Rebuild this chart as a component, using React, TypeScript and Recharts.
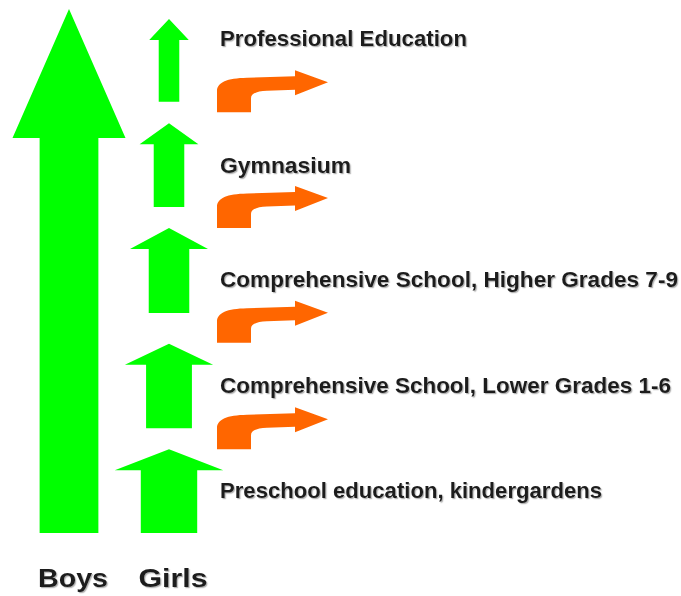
import React from 'react';
import { ComposedChart, Bar, Scatter, XAxis, YAxis } from 'recharts';

// ---- data ----
const groups = ['Boys', 'Girls'];
const stageLabels = [
  'Preschool education, kindergardens',
  'Comprehensive School, Lower Grades 1-6',
  'Comprehensive School, Higher Grades 7-9',
  'Gymnasium',
  'Professional Education',
];
// vertical extent of each girls' stage arrow (progress scale 0-100)
const stageStart = [0, 20.0, 42.0, 62.2, 82.3];
const stageEnd = [16.0, 36.1, 58.2, 78.2, 98.1];
// relative width (share, %) of each girls' arrow vs. the boys' arrow
const girlsShare = [96, 78, 69, 52, 35];
const boysShare = 100;
const boysRange = [0, 100];
// level at which girls drop out (orange arrows)
const dropoutLevel = [16.0, 36.3, 58.2, 80.3];

// ---- derived tables ----
const boysRow: Record<string, any> = { group: groups[0], boys: boysRange[1] - boysRange[0] };
const girlsRow: Record<string, any> = { group: groups[1] };
stageStart.forEach((s, i) => {
  girlsRow[`s${i}`] = stageEnd[i] - s;
  if (i < stageStart.length - 1) girlsRow[`gap${i}`] = stageStart[i + 1] - stageEnd[i];
});
const chartData = [boysRow, girlsRow];
const dropoutData = dropoutLevel.map((v) => ({ group: groups[1], level: v }));

// ---- styles ----
const GREEN = '#00FF00';
const ORANGE = '#FF6600';
const TEXT = '#1c1c1c';
const FONT = '"Liberation Sans", Arial, Helvetica, sans-serif';
const HEAD_SCALE = 1.13;
const SHAFT_RATIO = 0.52;
const BOYS_HEAD_LEN = 129;
const GIRLS_HEAD_LEN = 21;
const LABEL_DY = [7, 7, 16.5, 8, -14.5];
const LABEL_LEN = [382, 451, 458, 131, 247];
const TICK_LEN: Record<string, number> = { Boys: 70, Girls: 69 };

function arrowPath(cx: number, top: number, bottom: number, head: number, shaft: number, headLen: number) {
  const hy = top + headLen;
  return [
    `M${cx - shaft / 2},${bottom}`,
    `L${cx - shaft / 2},${hy}`,
    `L${cx - head / 2},${hy}`,
    `L${cx},${top}`,
    `L${cx + head / 2},${hy}`,
    `L${cx + shaft / 2},${hy}`,
    `L${cx + shaft / 2},${bottom}`,
    'Z',
  ].join(' ');
}

const BoysArrow = (props: any) => {
  const { x, y, width, height } = props;
  if (!height || height <= 0) return null;
  const cx = x + width / 2;
  const head = (boysShare / 100) * width * HEAD_SCALE;
  return <path d={arrowPath(cx, y, y + height, head, head * SHAFT_RATIO, BOYS_HEAD_LEN)} fill={GREEN} />;
};

const makeGirlArrow = (i: number) => (props: any) => {
  const { x, y, width, height } = props;
  if (!height || height <= 0) return null;
  const cx = x + width / 2;
  const head = (girlsShare[i] / 100) * width * HEAD_SCALE;
  return (
    <g>
      <path d={arrowPath(cx, y, y + height, head, head * SHAFT_RATIO, GIRLS_HEAD_LEN)} fill={GREEN} />
      <text
        x={x + width + 1}
        y={y + height / 2 + LABEL_DY[i]}
        fill={TEXT}
        fontFamily={FONT}
        fontWeight="bold"
        fontSize={22}
        textLength={LABEL_LEN[i]}
        lengthAdjust="spacingAndGlyphs"
        filter="url(#txtShadow)"
      >
        {stageLabels[i]}
      </text>
    </g>
  );
};

const Empty = () => null;

const DropoutArrow = (props: any) => {
  const { cx, cy } = props;
  if (cx == null || cy == null) return null;
  const ox = cx + 48;
  const oy = cy;
  const p = (u: number, v: number) => `${ox + u},${oy + v}`;
  const d = [
    `M${p(0, 0)}`,
    `L${p(0, -21)}`,
    `C${p(0, -30)} ${p(10, -34)} ${p(30, -34.5)}`,
    `L${p(78, -36)}`,
    `L${p(78, -42)}`,
    `L${p(111, -30)}`,
    `L${p(78, -17)}`,
    `L${p(78, -22.5)}`,
    `L${p(50, -21.5)}`,
    `C${p(40, -21)} ${p(34, -19)} ${p(34, -14)}`,
    `L${p(34, 0)}`,
    'Z',
  ].join(' ');
  return <path d={d} fill={ORANGE} />;
};

const GroupTick = (props: any) => {
  const { x, y, payload } = props;
  return (
    <text
      x={x + 4}
      y={y + 46}
      textAnchor="middle"
      fill={TEXT}
      fontFamily={FONT}
      fontWeight="bold"
      fontSize={26}
      textLength={TICK_LEN[payload.value]}
      lengthAdjust="spacingAndGlyphs"
      filter="url(#txtShadow)"
    >
      {payload.value}
    </text>
  );
};

export default function App() {
  return (
    <div style={{ position: 'absolute', left: 0, top: 0, width: 681, height: 596, background: '#fff' }}>
      <svg width={0} height={0} style={{ position: 'absolute' }}>
        <defs>
          <filter id="txtShadow" x="-5%" y="-20%" width="110%" height="150%">
            <feDropShadow dx={1.2} dy={1.2} stdDeviation={0.7} floodColor="#808080" floodOpacity={0.6} />
          </filter>
        </defs>
      </svg>
      <ComposedChart
        width={681}
        height={596}
        data={chartData}
        margin={{ top: 9, right: 462, left: 19, bottom: 3 }}
        barCategoryGap={0}
        barGap={0}
      >
        <XAxis
          dataKey="group"
          type="category"
          allowDuplicatedCategory={false}
          axisLine={false}
          tickLine={false}
          height={60}
          interval={0}
          tick={<GroupTick />}
        />
        <YAxis type="number" domain={[0, 100]} hide />
        <Bar dataKey="boys" stackId="a" shape={BoysArrow} isAnimationActive={false} />
        {stageStart.map((_, i) => [
          <Bar key={`s${i}`} dataKey={`s${i}`} stackId="a" shape={makeGirlArrow(i)} isAnimationActive={false} />,
          i < stageStart.length - 1 ? (
            <Bar key={`gap${i}`} dataKey={`gap${i}`} stackId="a" shape={Empty} isAnimationActive={false} />
          ) : null,
        ])}
        <Scatter data={dropoutData} dataKey="level" shape={DropoutArrow} isAnimationActive={false} />
      </ComposedChart>
    </div>
  );
}
